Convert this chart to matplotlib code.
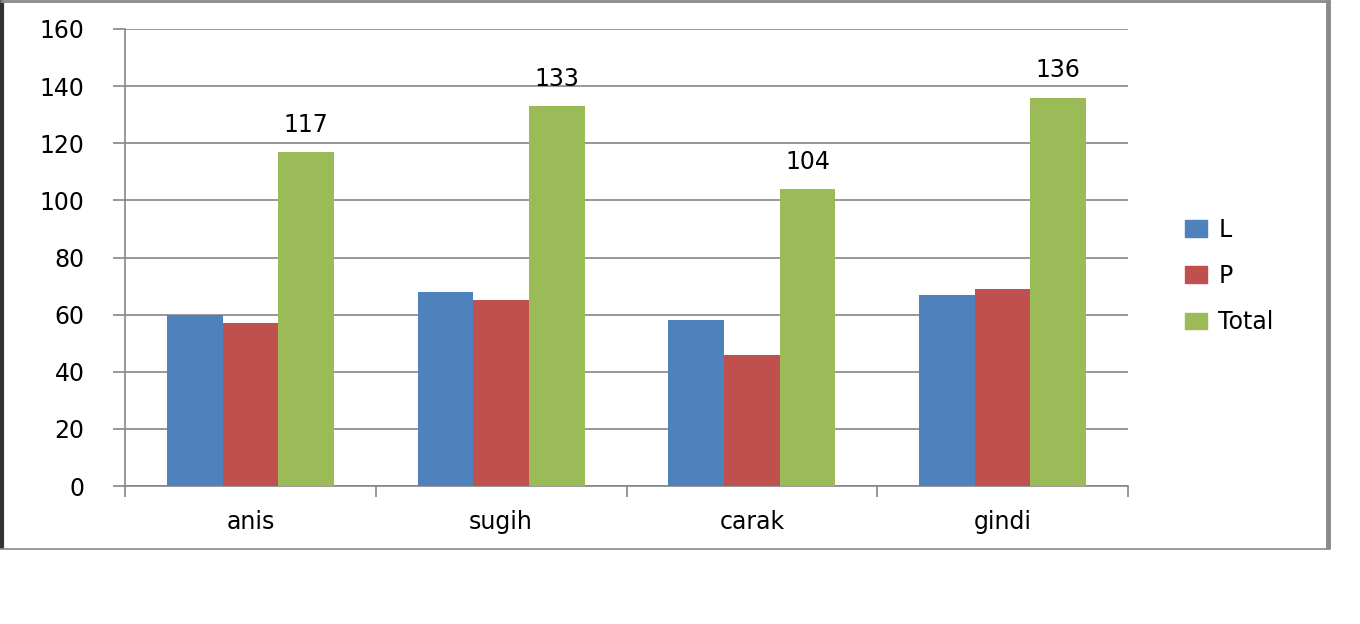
import matplotlib
matplotlib.use("Agg")
import matplotlib.pyplot as plt
from matplotlib.lines import Line2D
import numpy as np

categories = ["anis", "sugih", "carak", "gindi"]
L_vals = [60, 68, 58, 67]
P_vals = [57, 65, 46, 69]
Total_vals = [117, 133, 104, 136]
series_names = ["L", "P", "Total"]
colors = ["#4F81BD", "#C0504D", "#9BBB59"]
yticks = [0, 20, 40, 60, 80, 100, 120, 140, 160]

W, H = 1360, 624
fig = plt.figure(figsize=(W / 100, H / 100), dpi=100)
fig.patch.set_facecolor("white")

ax = fig.add_axes([125 / W, 1 - 486 / H, (1128 - 125) / W, (486 - 29) / H])
grid_c = "#868686"
fs = 17

x = np.arange(len(categories))
bw = 1 / 4.5
for i, (vals, name, c) in enumerate(zip([L_vals, P_vals, Total_vals], series_names, colors)):
    pos = x + (i - 1) * bw
    ax.bar(pos, vals, width=bw, color=c, label=name, zorder=3)
    if name == "Total":
        for px, v in zip(pos, vals):
            ax.annotate(str(v), (px, v), xytext=(0, 11), textcoords="offset points",
                        ha="center", va="bottom", fontsize=fs, color="black")

ax.set_xlim(-0.5, len(categories) - 0.5)
ax.set_ylim(0, 160)
ax.set_yticks(yticks)
ax.set_yticklabels([str(t) for t in yticks], fontsize=fs)
ax.yaxis.grid(True, color=grid_c, linewidth=1.2, zorder=0)
ax.set_axisbelow(True)
ax.set_xticks(x)
ax.set_xticklabels(categories, fontsize=fs)
ax.tick_params(axis="x", length=0, pad=17)
ax.set_xticks(np.arange(-0.5, len(categories), 1.0), minor=True)
ax.tick_params(axis="x", which="minor", length=8, color=grid_c, width=1.2, direction="out")
ax.tick_params(axis="y", length=9, color=grid_c, width=1.2, pad=20, direction="out")
for s in ["top", "right"]:
    ax.spines[s].set_visible(False)
for s in ["left", "bottom"]:
    ax.spines[s].set_color(grid_c)
    ax.spines[s].set_linewidth(1.2)

handles = [plt.Rectangle((0, 0), 1, 1, color=c) for c in colors]
leg = fig.legend(handles, series_names, loc="center left",
                 bbox_to_anchor=(1176 / W, 1 - 276 / H), frameon=False,
                 fontsize=fs, handlelength=0.9, handleheight=0.7,
                 labelspacing=0.95, handletextpad=0.5, borderaxespad=0)

# chart border
def fl(x0, y0, x1, y1, lw, c):
    fig.add_artist(Line2D([x0 / W, x1 / W], [1 - y0 / H, 1 - y1 / H], color=c, linewidth=lw,
                          transform=fig.transFigure, solid_capstyle="butt"))

fl(2, 0, 2, 549, 3, "#333333")
fl(0, 1, 1330, 1, 2, "#8a8a8a")
fl(1328, 0, 1328, 549, 3.5, "#8a8a8a")
fl(0, 549, 1330, 549, 1.2, "#8a8a8a")

fig.savefig("out.png", dpi=100, facecolor="white")
